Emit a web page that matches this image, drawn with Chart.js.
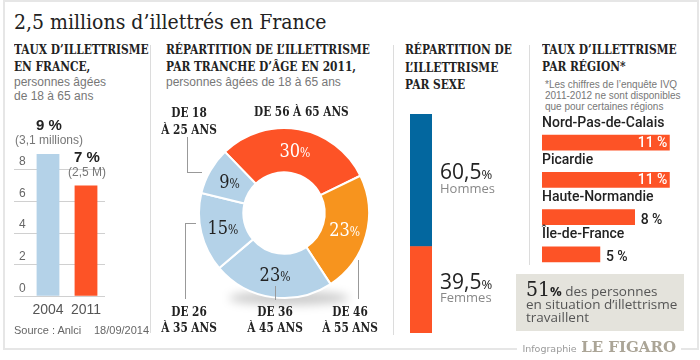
<!DOCTYPE html>
<html>
<head>
<meta charset="utf-8">
<script src="https://cdn.jsdelivr.net/npm/chart.js@4"></script>
<style>
body{margin:0;background:#fff;}
#wrap{position:relative;width:700px;height:360px;overflow:hidden;font-family:'Liberation Sans',Arial,sans-serif;}
.abs{position:absolute;white-space:nowrap;}
.slab{font-family:'DejaVu Serif Condensed','DejaVu Serif',serif;font-stretch:condensed;font-weight:bold;color:#222;}
.h{font-size:13px;line-height:17px;transform:scaleX(0.91);transform-origin:0 0;}
.sub{color:#777;font-size:12px;line-height:14px;}
.vl{position:absolute;width:1px;background:#dcdcdc;}
.lead{position:absolute;background:#999;}
.age{position:absolute;width:100px;text-align:center;font-size:13px;line-height:16px;white-space:nowrap;transform:scaleX(0.9);transform-origin:50% 0;}
canvas{position:absolute;}
</style>
</head>
<body>
<div id="wrap">
  <div class="abs" style="left:3px;top:0;width:696px;height:350px;box-sizing:border-box;border:2px solid #e6e6e6;"></div>
  <div class="abs" style="left:14px;top:9px;font-family:'DejaVu Serif Condensed','DejaVu Serif',serif;font-stretch:condensed;font-size:21px;line-height:26px;color:#222;">2,5 millions d’illettrés en France</div>

  <div class="vl" style="left:150px;top:45px;height:288px;"></div>
  <div class="vl" style="left:393px;top:45px;height:290px;"></div>
  <div class="vl" style="left:529px;top:45px;height:220px;"></div>

  <!-- panel 1 -->
  <div class="abs slab h" style="left:14px;top:41px;">TAUX D’ILLETTRISME<br>EN FRANCE,</div>
  <div class="abs sub" style="left:14px;top:75px;">personnes âgées<br>de 18 à 65 ans</div>
  <canvas id="rateChart" width="100" height="215" style="left:14px;top:110px;"></canvas>
  <div class="abs" style="left:14px;top:323px;font-size:11px;line-height:14px;color:#666;">Source : Anlci</div>
  <div class="abs" style="left:94px;top:323px;font-size:11px;line-height:14px;color:#666;">18/09/2014</div>

  <!-- panel 2 -->
  <div class="abs slab h" style="left:166px;top:41px;">RÉPARTITION DE L’ILLETTRISME<br>PAR TRANCHE D’ÂGE EN 2011,</div>
  <div class="abs sub" style="left:166px;top:75px;">personnes âgées de 18 à 65 ans</div>
  <canvas id="ageChart" width="190" height="210" style="left:189px;top:118px;"></canvas>
  <div class="age slab" style="left:249px;top:104px;">DE 56 À 65 ANS</div>
  <div class="age slab" style="left:139px;top:104px;line-height:17px;">DE 18<br>À 25 ANS</div>
  <div class="age slab" style="left:139px;top:304px;">DE 26<br>À 35 ANS</div>
  <div class="age slab" style="left:225px;top:304px;">DE 36<br>À 45 ANS</div>
  <div class="age slab" style="left:300px;top:304px;">DE 46<br>À 55 ANS</div>
  <div class="lead" style="left:187px;top:137px;width:1px;height:35px;"></div>
  <div class="lead" style="left:187px;top:172px;width:15px;height:1px;"></div>
  <div class="lead" style="left:185px;top:223px;width:1px;height:76px;"></div>
  <div class="lead" style="left:185px;top:223px;width:11px;height:1px;"></div>
  <div class="lead" style="left:275px;top:286px;width:1px;height:14px;"></div>
  <div class="lead" style="left:358px;top:260px;width:1px;height:39px;"></div>

  <!-- panel 3 -->
  <div class="abs slab h" style="left:405px;top:41px;line-height:17.5px;">RÉPARTITION DE<br>L’ILLETTRISME<br>PAR SEXE</div>
  <canvas id="sexChart" width="115" height="228" style="left:405px;top:110px;"></canvas>

  <!-- panel 4 -->
  <div class="abs slab h" style="left:542px;top:41px;">TAUX D’ILLETTRISME<br>PAR RÉGION*</div>
  <div class="abs" style="left:545px;top:79px;font-size:10px;line-height:11px;color:#777;">*Les chiffres de l’enquête IVQ<br>2011-2012 ne sont disponibles<br>que pour certaines régions</div>
  <canvas id="regionChart" width="160" height="175" style="left:535px;top:105px;"></canvas>

  <div class="abs" style="left:516px;top:274px;width:168px;height:57px;background:#e4e3dc;"></div>
  <div class="abs" style="left:526px;top:283px;font-family:'Open Sans',sans-serif;font-size:13.5px;line-height:13px;color:#555;">
    <span class="slab" style="font-weight:normal;font-size:21px;color:#222;">51</span><span style="font-size:13px;color:#222;font-weight:bold;">%</span> des personnes<br>en situation d’illettrisme<br>travaillent</div>

  <div class="abs" style="right:19px;top:338px;background:#fff;padding:0 5px;line-height:18px;">
    <span style="font-family:'DejaVu Sans';font-size:9.5px;color:#9a9a9a;">Infographie</span>
    <span style="font-family:'DejaVu Serif';font-weight:900;font-size:15px;color:#aba597;">LE FIGARO</span></div>
</div>

<script>
const RED = '#fd5326';
const ORANGE = '#f7941e';
const LIGHT_BLUE = '#b4d2e8';
const DARK_BLUE = '#03679f';

// taux d'illettrisme en France
const years = ['2004', '2011'];
const rateValues = [9, 7];
const rateLabels = ['9 %', '7 %'];
const rateSubLabels = ['(3,1 millions)', '(2,5 M)'];
const rateTicks = [0, 2, 4, 6, 8];

// répartition par tranche d'âge (sens horaire depuis le rouge)
const ageGroups = ['DE 56 À 65 ANS', 'DE 46 À 55 ANS', 'DE 36 À 45 ANS', 'DE 26 À 35 ANS', 'DE 18 À 25 ANS'];
const ageShares = [30, 23, 23, 15, 9];

// répartition par sexe
const sexes = ['Femmes', 'Hommes'];
const sexShares = [39.5, 60.5];

// taux par région
const regions = ['Nord-Pas-de-Calais', 'Picardie', 'Haute-Normandie', 'Île-de-France'];
const regionRates = [11, 11, 8, 5];

const fr = v => String(v).replace('.', ',');
const SLAB = "'DejaVu Serif Condensed', 'DejaVu Serif', serif";

const rateLabelPlugin = {
  id: 'rateLabels',
  afterDatasetsDraw(chart) {
    const ctx = chart.ctx;
    chart.getDatasetMeta(0).data.forEach((bar, i) => {
      ctx.save();
      ctx.textAlign = 'center';
      ctx.textBaseline = 'middle';
      ctx.fillStyle = '#222';
      ctx.font = "bold 15px 'Liberation Sans'";
      ctx.fillText(rateLabels[i], bar.x + 1, bar.y - 28);
      ctx.fillStyle = '#777';
      ctx.font = "12px 'Liberation Sans'";
      ctx.fillText(rateSubLabels[i], bar.x + 1, bar.y - 13);
      ctx.restore();
    });
  }
};

new Chart(document.getElementById('rateChart'), {
  type: 'bar',
  data: {
    labels: years,
    datasets: [{
      data: rateValues,
      backgroundColor: [LIGHT_BLUE, RED],
      barPercentage: 0.6,
      categoryPercentage: 1
    }]
  },
  options: {
    responsive: false,
    animation: false,
    layout: { padding: { top: 44, right: 9, left: 0, bottom: 0 } },
    plugins: { legend: { display: false }, tooltip: { enabled: false } },
    scales: {
      x: {
        grid: { display: false, drawTicks: false },
        border: { display: false },
        ticks: { color: '#555', font: { family: 'Liberation Sans', size: 14 }, padding: 6 }
      },
      y: {
        min: 0,
        max: 9,
        afterBuildTicks: s => { s.ticks = rateTicks.map(v => ({ value: v })); },
        afterFit: s => { s.width = 15; },
        grid: { color: '#d0d0d0', tickLength: 15 },
        border: { display: false },
        ticks: { mirror: true, padding: -10, labelOffset: -8, color: '#666', font: { family: 'Liberation Sans', size: 12 } }
      }
    }
  },
  plugins: [rateLabelPlugin]
});

const ringShadow = {
  id: 'ringShadow',
  beforeDatasetsDraw(chart) {
    const arc = chart.getDatasetMeta(0).data[0];
    const ctx = chart.ctx;
    ctx.save();
    ctx.filter = 'blur(5px)';
    ctx.fillStyle = 'rgba(0,0,0,0.2)';
    ctx.beginPath();
    ctx.ellipse(arc.x + 5, arc.y + arc.outerRadius, 60, 7, 0, 0, Math.PI * 2);
    ctx.fill();
    ctx.restore();
  }
};

const ringLabels = {
  id: 'ringLabels',
  afterDatasetsDraw(chart) {
    const ctx = chart.ctx;
    chart.getDatasetMeta(0).data.forEach((arc, i) => {
      const p = arc.getCenterPoint();
      const num = String(ageShares[i]);
      ctx.save();
      ctx.font = '18px ' + SLAB;
      const w1 = ctx.measureText(num).width;
      ctx.font = '12px ' + SLAB;
      const w2 = ctx.measureText('%').width;
      const x0 = p.x - (w1 + w2) / 2;
      ctx.fillStyle = i < 2 ? '#fff' : '#222';
      ctx.textBaseline = 'alphabetic';
      ctx.font = '18px ' + SLAB;
      ctx.fillText(num, x0, p.y + 6);
      ctx.font = '12px ' + SLAB;
      ctx.fillText('%', x0 + w1, p.y + 6);
      ctx.restore();
    });
  }
};

new Chart(document.getElementById('ageChart'), {
  type: 'doughnut',
  data: {
    labels: ageGroups,
    datasets: [{
      data: ageShares,
      backgroundColor: [RED, ORANGE, LIGHT_BLUE, LIGHT_BLUE, LIGHT_BLUE],
      borderColor: '#fff',
      borderWidth: 2
    }]
  },
  options: {
    responsive: false,
    animation: false,
    rotation: -44,
    radius: 85,
    cutout: 45,
    layout: { padding: { bottom: 20 } },
    plugins: { legend: { display: false }, tooltip: { enabled: false } }
  },
  plugins: [ringShadow, ringLabels]
});

const sexLabels = {
  id: 'sexLabels',
  afterDatasetsDraw(chart) {
    const ctx = chart.ctx;
    chart.data.datasets.forEach((ds, i) => {
      const bar = chart.getDatasetMeta(i).data[0];
      const mid = (bar.y + bar.base) / 2;
      const x = bar.x + bar.width / 2 + 8;
      const num = fr(sexShares[i]);
      ctx.save();
      ctx.textBaseline = 'alphabetic';
      ctx.fillStyle = '#222';
      ctx.font = "21px 'Open Sans'";
      const w = ctx.measureText(num).width;
      ctx.fillText(num, x, mid - 1);
      ctx.font = "13px 'Open Sans'";
      ctx.fillText('%', x + w, mid - 1);
      ctx.fillStyle = '#888';
      ctx.font = "13px 'Open Sans'";
      ctx.textBaseline = 'middle';
      ctx.fillText(sexes[i], x, mid + 9);
      ctx.restore();
    });
  }
};

new Chart(document.getElementById('sexChart'), {
  type: 'bar',
  data: {
    labels: ['Répartition par sexe'],
    datasets: sexes.map((s, i) => ({
      label: s,
      data: [sexShares[i]],
      backgroundColor: i === 0 ? RED : DARK_BLUE,
      barPercentage: 1,
      categoryPercentage: 1
    }))
  },
  options: {
    responsive: false,
    animation: false,
    layout: { padding: { left: 5, right: 88, top: 4, bottom: 5 } },
    plugins: { legend: { display: false }, tooltip: { enabled: false } },
    scales: {
      x: { display: false, stacked: true },
      y: { display: false, stacked: true, min: 0, max: 100 }
    }
  },
  plugins: [sexLabels]
});

const regionLabels = {
  id: 'regionLabels',
  afterDatasetsDraw(chart) {
    const ctx = chart.ctx;
    const left = chart.chartArea.left;
    chart.getDatasetMeta(0).data.forEach((bar, i) => {
      ctx.save();
      ctx.textBaseline = 'middle';
      ctx.font = "500 14px Roboto";
      ctx.fillStyle = '#222';
      ctx.textAlign = 'left';
      ctx.fillText(regions[i], left, bar.y - 19.5);
      const txt = regionRates[i] + ' %';
      if (regionRates[i] >= 10) {
        ctx.fillStyle = '#fff';
        ctx.textAlign = 'right';
        ctx.fillText(txt, bar.x - 2, bar.y + 1);
      } else {
        ctx.fillText(txt, bar.x + 6, bar.y + 3);
      }
      ctx.restore();
    });
  }
};

new Chart(document.getElementById('regionChart'), {
  type: 'bar',
  data: {
    labels: regions,
    datasets: [{ data: regionRates, backgroundColor: RED, barThickness: 15 }]
  },
  options: {
    indexAxis: 'y',
    responsive: false,
    animation: false,
    layout: { padding: { left: 7, right: 14, top: 19, bottom: 7 } },
    plugins: { legend: { display: false }, tooltip: { enabled: false } },
    scales: {
      x: { display: false, min: 0, max: 12 },
      y: { display: false }
    }
  },
  plugins: [regionLabels]
});
</script>
</body>
</html>
